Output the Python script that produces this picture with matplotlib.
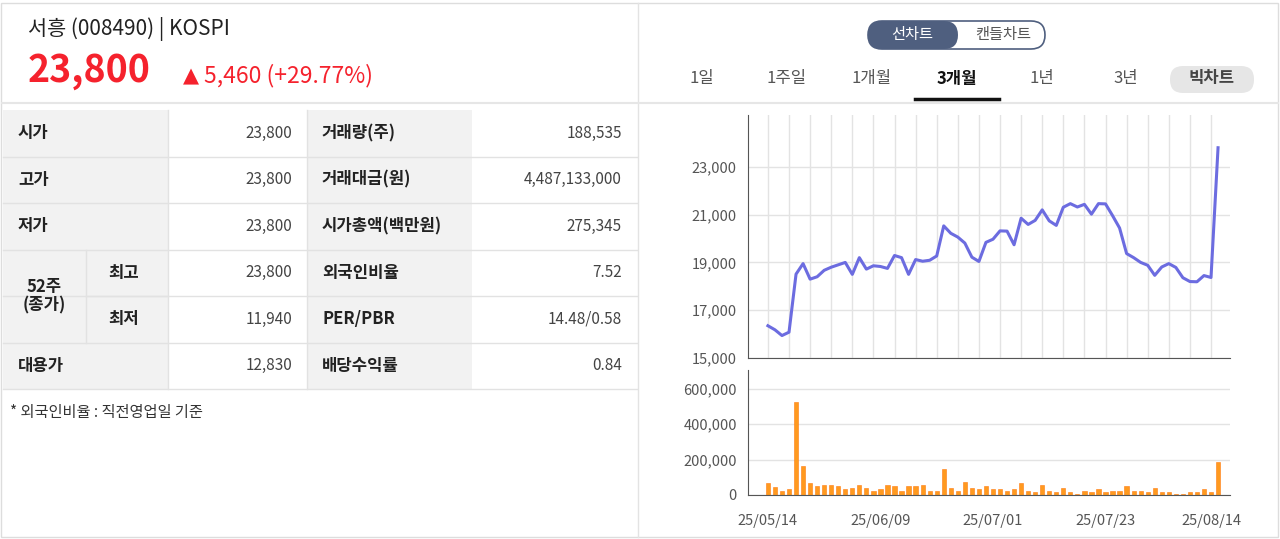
import matplotlib.pyplot as plt
from matplotlib.patches import Rectangle, FancyBboxPatch

plt.rcParams['font.family'] = ['Noto Sans CJK KR', 'DejaVu Sans']

close = [16350, 16180, 15940, 16080, 18510, 18950, 18300, 18400, 18670, 18800,
         18900, 19000, 18500, 19200, 18720, 18860, 18830, 18750, 19290, 19200,
         18500, 19120, 19050, 19090, 19270, 20530, 20220, 20060, 19810, 19220,
         19040, 19840, 19970, 20320, 20310, 19740, 20850, 20590, 20760, 21200,
         20740, 20550, 21310, 21460, 21320, 21430, 21020, 21460, 21450, 20960,
         20440, 19370, 19200, 19000, 18880, 18460, 18810, 18950, 18790, 18360,
         18200, 18190, 18450, 18370, 23800]
volume = [66, 44, 25, 34, 525, 163, 66, 49, 59, 59, 49, 34, 42, 59, 42, 25, 34,
          59, 49, 25, 49, 49, 59, 25, 25, 146, 42, 25, 76, 42, 34, 49, 34, 34,
          25, 34, 66, 25, 17, 59, 25, 17, 42, 17, 8, 25, 17, 34, 17, 25, 25, 49,
          25, 25, 17, 42, 17, 17, 8, 8, 17, 17, 34, 17, 186]
volume = [v * 1000 for v in volume]
date_pos = [0, 16, 32, 48, 63]
date_labels = ['25/05/14', '25/06/09', '25/07/01', '25/07/23', '25/08/14']

rows_left = [('시가', '23,800'), ('고가', '23,800'), ('저가', '23,800'),
             ('최고', '23,800'), ('최저', '11,940'), ('대용가', '12,830')]
rows_right = [('거래량(주)', '188,535'), ('거래대금(원)', '4,487,133,000'),
              ('시가총액(백만원)', '275,345'), ('외국인비율', '7.52'),
              ('PER/PBR', '14.48/0.58'), ('배당수익률', '0.84')]
periods = ['1일', '1주일', '1개월', '3개월', '1년', '3년']

W, H = 1280, 539
fig = plt.figure(figsize=(12.8, 5.39), dpi=100)
bg = fig.add_axes([0, 0, 1, 1])
bg.set_xlim(0, W)
bg.set_ylim(H, 0)
bg.axis('off')

def txt(x, y, s, **kw):
    kw.setdefault('va', 'center')
    kw.setdefault('color', '#222222')
    bg.text(x, y, s, **kw)

# outer frame
bg.add_patch(Rectangle((1, 3), 1277, 534, fc='white', ec='#dddddd', lw=1))
bg.plot([638, 638], [3, 537], color='#e3e3e3', lw=1)
bg.plot([2, 1278], [103, 103], color='#e6e6e6', lw=1.5)

# header
txt(28, 29, '서흥 (008490) | KOSPI', fontsize=15, weight='medium')
txt(28, 71, '23,800', fontsize=27, color='#f5222d', weight='bold')
txt(183, 76, '▲', fontsize=15, color='#f5222d', family=['DejaVu Sans'])
txt(204, 76, '5,460 (+29.77%)', fontsize=16.5, color='#f5222d', weight='medium')

# table
top, rh = 110, 46.5
for i in range(6):
    y0 = top + i * rh
    bg.add_patch(Rectangle((3, y0), 165, rh, fc='#f2f2f2', ec='none'))
    bg.add_patch(Rectangle((307, y0), 165, rh, fc='#f2f2f2', ec='none'))
    bg.plot([3, 637], [y0 + rh, y0 + rh], color='#e2e2e2', lw=1)
    yc = y0 + rh / 2
    lab, val = rows_left[i]
    if i in (3, 4):
        txt(108, yc, lab, fontsize=12, weight='bold')
    else:
        txt(18, yc, lab, fontsize=12, weight='bold')
    txt(292, yc, val, fontsize=11, ha='right', color='#444444')
    lab, val = rows_right[i]
    txt(322, yc, lab, fontsize=12, weight='bold')
    txt(622, yc, val, fontsize=11, ha='right', color='#444444')
bg.plot([86, 168], [top + 4 * rh, top + 4 * rh], color='#e2e2e2', lw=1)
bg.plot([86, 86], [top + 3 * rh, top + 5 * rh], color='#e2e2e2', lw=1)
bg.plot([168, 168], [top, top + 6 * rh], color='#e2e2e2', lw=1)
bg.plot([307, 307], [top, top + 6 * rh], color='#e2e2e2', lw=1)
txt(44, top + 4 * rh, '52주\n(종가)', fontsize=12, weight='bold', ha='center', linespacing=1.0)
txt(10, 412, '* 외국인비율 : 직전영업일 기준', fontsize=11, color='#333333')

# toggle
bg.add_patch(FancyBboxPatch((868, 21), 177, 28, boxstyle='round,pad=0,rounding_size=14',
                            fc='white', ec='#4f5f7f', lw=1.2))
bg.add_patch(FancyBboxPatch((868, 21), 90, 28, boxstyle='round,pad=0,rounding_size=14',
                            fc='#4f5f7f', ec='none'))
txt(912, 35, '선차트', fontsize=11, color='white', ha='center')
txt(1003, 35, '캔들차트', fontsize=11, color='#555555', ha='center')

px = [702, 787, 872, 957, 1042, 1126]
for p, s in zip(px, periods):
    if s == '3개월':
        txt(p, 79, s, fontsize=12, ha='center', weight='bold', color='#111111')
        bg.plot([915, 999], [99, 99], color='#111111', lw=2.5)
    else:
        txt(p, 79, s, fontsize=12, ha='center', color='#555555')
bg.add_patch(FancyBboxPatch((1170, 66), 84, 27, boxstyle='round,pad=0,rounding_size=13',
                            fc='#e6e6e6', ec='none'))
txt(1212, 78, '빅차트', fontsize=12, ha='center', weight='bold', color='#444444')

# price chart
x = list(range(len(close)))
ax = fig.add_axes([748 / W, 1 - 358 / H, 482 / W, 243 / H])
ax.plot(x, close, color='#6c6ce0', lw=2.2)
ax.set_xlim(-2.83, 65.7)
ax.set_ylim(15000, 25170)
ax.set_yticks([15000, 17000, 19000, 21000, 23000])
ax.set_yticklabels(['15,000', '17,000', '19,000', '21,000', '23,000'])
ax.set_xticks(range(0, 64, 3))
ax.set_xticklabels([])
ax.grid(True, color='#e3e3e3', lw=1)
ax.set_axisbelow(True)
for s in ['top', 'right']:
    ax.spines[s].set_visible(False)
ax.spines['left'].set_color('#555555')
ax.spines['bottom'].set_color('#555555')
ax.tick_params(length=0, labelsize=10.5, labelcolor='#555555', pad=8)

# volume chart
ax2 = fig.add_axes([748 / W, 1 - 495 / H, 482 / W, 125 / H])
ax2.bar(x, volume, width=0.6, color='#ff9a1f', edgecolor='#ff7a10', lw=0.4)
ax2.set_xlim(-2.83, 65.7)
ax2.set_ylim(0, 707000)
ax2.set_yticks([0, 200000, 400000, 600000])
ax2.set_yticklabels(['0', '200,000', '400,000', '600,000'])
ax2.set_xticks(date_pos)
ax2.set_xticklabels(date_labels)
ax2.grid(True, axis='y', color='#e3e3e3', lw=1)
ax2.set_axisbelow(True)
for s in ['top', 'right']:
    ax2.spines[s].set_visible(False)
ax2.spines['left'].set_color('#555555')
ax2.spines['bottom'].set_color('#555555')
ax2.tick_params(length=0, labelsize=10.5, labelcolor='#555555', pad=8)
ax2.tick_params(axis='x', pad=14)

fig.savefig('out.png', dpi=100)
